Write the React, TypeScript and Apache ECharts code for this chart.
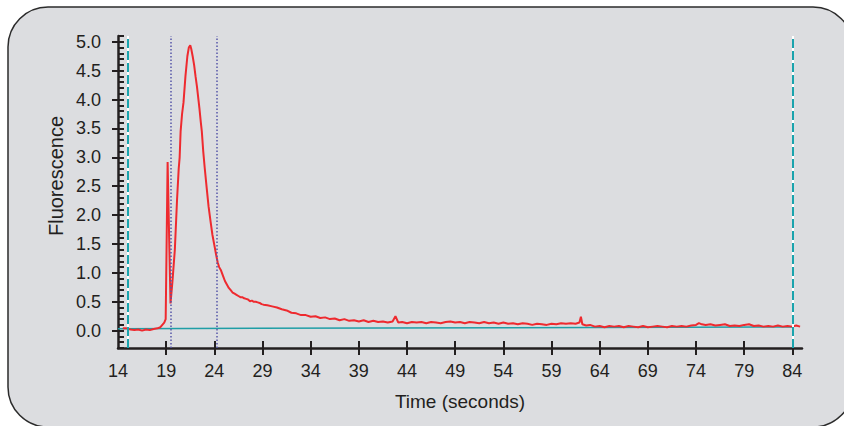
import React, { useEffect, useRef } from "react";
import * as echarts from "echarts";

// Tick labels / ticks
const xTickLabels = [14, 19, 24, 29, 34, 39, 44, 49, 54, 59, 64, 69, 74, 79, 84];
const xTicks = [19, 24, 29, 34, 39, 44, 49, 54, 59, 64, 69, 74, 79, 84];
const yTickLabels = [0, 0.5, 1, 1.5, 2, 2.5, 3, 3.5, 4, 4.5, 5];
const yMinorTicks = [
  -0.3, -0.2, -0.1, 0, 0.1, 0.2, 0.3, 0.4, 0.5, 0.6, 0.7, 0.8, 0.9, 1, 1.1, 1.2, 1.3, 1.4, 1.5,
  1.6, 1.7, 1.8, 1.9, 2, 2.1, 2.2, 2.3, 2.4, 2.5, 2.6, 2.7, 2.8, 2.9, 3, 3.1, 3.2, 3.3, 3.4, 3.5,
  3.6, 3.7, 3.8, 3.9, 4, 4.1, 4.2, 4.3, 4.4, 4.5, 4.6, 4.7, 4.8, 4.9, 5, 5.1,
];

// Window markers (cyan dashed) and peak markers (dotted)
const windowMarkers = [15, 84];
const peakMarkers = [19.5, 24.3];

// Baseline (teal)
const baseline: [number, number][] = [
  [14, 0.035],
  [84, 0.065],
];

// Signal: [time (s), fluorescence]
const signal: [number, number][] = [
  [14.5, 0.04], [14.9, 0.04], [15.3, 0.02], [15.7, 0.01], [16.1, 0.02], [16.5, 0.0], [16.9, 0.02],
  [17.3, 0.01], [17.7, 0.03], [18.1, 0.04], [18.4, 0.06], [18.6, 0.1], [18.8, 0.14], [18.95, 0.2],
  [19.15, 2.92], [19.45, 0.47], [19.65, 0.85], [19.9, 1.4], [20.13, 2.27], [20.3, 2.8], [20.4, 3.0],
  [20.5, 3.45], [20.65, 3.75], [20.8, 3.95], [21.0, 4.4], [21.2, 4.75], [21.35, 4.9], [21.5, 4.94],
  [21.6, 4.88], [21.75, 4.75], [21.9, 4.6], [22.05, 4.4], [22.2, 4.22], [22.35, 4.0], [22.45, 3.85],
  [22.6, 3.6], [22.7, 3.45], [22.85, 3.1], [23.0, 2.82], [23.2, 2.48], [23.4, 2.15], [23.6, 1.9],
  [23.8, 1.66], [24.0, 1.48], [24.2, 1.3], [24.35, 1.18], [24.5, 1.1], [24.7, 1.04], [24.9, 0.95],
  [25.1, 0.86], [25.3, 0.8], [25.5, 0.74], [25.7, 0.7], [25.9, 0.66], [26.1, 0.64], [26.3, 0.62],
  [26.5, 0.6], [26.7, 0.58], [26.9, 0.58], [27.1, 0.56], [27.3, 0.55], [27.5, 0.54], [27.7, 0.51],
  [27.9, 0.52], [28.1, 0.5], [28.3, 0.5], [28.5, 0.49], [28.7, 0.48], [28.9, 0.46], [29.1, 0.45],
  [29.5, 0.44], [30.0, 0.42], [30.5, 0.4], [31.0, 0.37], [31.5, 0.35], [32.0, 0.31], [32.5, 0.3],
  [33.0, 0.27], [33.5, 0.27], [34.0, 0.24], [34.5, 0.25], [35.0, 0.22], [35.5, 0.23], [36.0, 0.2],
  [36.5, 0.21], [37.0, 0.18], [37.5, 0.2], [38.0, 0.17], [38.5, 0.18], [39.0, 0.16], [39.5, 0.18],
  [40.0, 0.15], [40.5, 0.17], [41.0, 0.15], [41.5, 0.16], [42.0, 0.14], [42.5, 0.16], [42.8, 0.25],
  [43.1, 0.14], [43.5, 0.15], [44.0, 0.13], [44.5, 0.15], [45.0, 0.14], [45.5, 0.15], [46.0, 0.13],
  [46.5, 0.15], [47.0, 0.14], [47.5, 0.13], [48.0, 0.15], [48.5, 0.16], [49.0, 0.14], [49.5, 0.15],
  [50.0, 0.13], [50.5, 0.15], [51.0, 0.14], [51.5, 0.13], [52.0, 0.15], [52.5, 0.13], [53.0, 0.14],
  [53.5, 0.12], [54.0, 0.14], [54.5, 0.12], [55.0, 0.13], [55.5, 0.11], [56.0, 0.13], [56.5, 0.12],
  [57.0, 0.1], [57.5, 0.12], [58.0, 0.11], [58.5, 0.1], [59.0, 0.12], [59.5, 0.11], [60.0, 0.13],
  [60.5, 0.12], [61.0, 0.13], [61.5, 0.12], [61.9, 0.14], [62.05, 0.24], [62.2, 0.11], [62.6, 0.09],
  [63.0, 0.1], [63.5, 0.07], [64.0, 0.08], [64.5, 0.06], [65.0, 0.08], [65.5, 0.07], [66.0, 0.08],
  [66.5, 0.06], [67.0, 0.08], [67.5, 0.07], [68.0, 0.06], [68.5, 0.08], [69.0, 0.06], [69.5, 0.07],
  [70.0, 0.08], [70.5, 0.07], [71.0, 0.06], [71.5, 0.08], [72.0, 0.07], [72.5, 0.08], [73.0, 0.07],
  [73.5, 0.09], [74.0, 0.1], [74.3, 0.13], [74.6, 0.11], [75.0, 0.1], [75.5, 0.11], [76.0, 0.09],
  [76.5, 0.1], [77.0, 0.11], [77.5, 0.08], [78.0, 0.09], [78.5, 0.08], [79.0, 0.1], [79.5, 0.11],
  [80.0, 0.08], [80.5, 0.09], [81.0, 0.07], [81.5, 0.08], [82.0, 0.07], [82.5, 0.09], [83.0, 0.07],
  [83.5, 0.08], [84.0, 0.07], [84.4, 0.09], [84.8, 0.07],
];

const FONT = "'Liberation Sans', Arial, sans-serif";
const AXIS_COLOR = "#231f20";

export default function App() {
  const ref = useRef<HTMLDivElement>(null);

  useEffect(() => {
    document.body.style.margin = "0";
    if (!ref.current) return;
    const chart = echarts.init(ref.current, null, { renderer: "svg" });

    const xBase = {
      type: "value",
      min: 14,
      max: 85,
      gridIndex: 0,
      position: "bottom",
      splitLine: { show: false },
    };
    const yBase = {
      type: "value",
      min: -0.3,
      max: 5.1,
      gridIndex: 0,
      position: "left",
      splitLine: { show: false },
    };

    chart.setOption({
      animation: false,
      backgroundColor: "#ffffff",
      graphic: [
        {
          type: "rect",
          z: -100,
          silent: true,
          shape: { x: 8, y: 7, width: 845, height: 420, r: 40 },
          style: { fill: "#dcdde0", stroke: "#2b2b2b", lineWidth: 1.5 },
        },
        {
          type: "text",
          x: 56,
          y: 176,
          rotation: Math.PI / 2,
          style: {
            text: "Fluorescence",
            fill: "#231f20",
            font: `20px ${FONT}`,
            align: "center",
            verticalAlign: "middle",
          },
        },
      ],
      grid: { left: 118, right: 42, top: 36, bottom: 78, containLabel: false },
      xAxis: [
        {
          ...xBase,
          name: "Time (seconds)",
          nameLocation: "middle",
          nameGap: 44,
          nameTextStyle: { fontFamily: FONT, fontSize: 19, color: "#231f20" },
          axisLine: { show: true, onZero: false, lineStyle: { color: AXIS_COLOR, width: 2.5 } },
          axisTick: { show: true, inside: false, length: 7, customValues: xTicks, lineStyle: { color: AXIS_COLOR, width: 2 } },
          axisLabel: {
            show: true,
            customValues: xTickLabels,
            margin: 14,
            fontFamily: FONT,
            fontSize: 18,
            color: "#231f20",
          },
        },
        {
          ...xBase,
          axisLine: { show: false, onZero: false },
          axisTick: { show: true, inside: true, length: 7, customValues: xTicks, lineStyle: { color: AXIS_COLOR, width: 2 } },
          axisLabel: { show: false },
        },
      ],
      yAxis: [
        {
          ...yBase,
          axisLine: { show: true, onZero: false, lineStyle: { color: AXIS_COLOR, width: 2.5 } },
          axisTick: { show: true, inside: false, length: 6, customValues: yTickLabels, lineStyle: { color: AXIS_COLOR, width: 2 } },
          axisLabel: {
            show: true,
            customValues: yTickLabels,
            margin: 17,
            fontFamily: FONT,
            fontSize: 18,
            color: "#231f20",
            formatter: (v: number) => v.toFixed(1),
          },
        },
        {
          ...yBase,
          axisLine: { show: false, onZero: false },
          axisTick: { show: true, inside: true, length: 6, customValues: yMinorTicks, lineStyle: { color: AXIS_COLOR, width: 2 } },
          axisLabel: { show: false },
        },
      ],
      series: [
        {
          type: "line",
          name: "baseline",
          xAxisIndex: 0,
          yAxisIndex: 0,
          data: baseline,
          showSymbol: false,
          symbol: "none",
          lineStyle: { color: "#1f9ea6", width: 1.5 },
          z: 3,
          markLine: {
            silent: true,
            symbol: "none",
            label: { show: false },
            data: [
              ...windowMarkers.map((x) => ({ xAxis: x, lineStyle: { color: "#ffffff", width: 2, type: "solid" } })),
              ...windowMarkers.map((x) => ({ xAxis: x, lineStyle: { color: "#1aa3ad", width: 2, type: [9, 3] } })),
              ...peakMarkers.map((x) => ({ xAxis: x, lineStyle: { color: "#5656a8", width: 1.5, type: [1.5, 2] } })),
            ],
          },
        },
        {
          type: "line",
          name: "signal",
          xAxisIndex: 0,
          yAxisIndex: 0,
          data: signal,
          showSymbol: false,
          symbol: "none",
          lineStyle: { color: "#ee2a2f", width: 2 },
          z: 4,
        },
      ],
    });

    return () => chart.dispose();
  }, []);

  return <div ref={ref} style={{ width: 844, height: 426 }} />;
}
